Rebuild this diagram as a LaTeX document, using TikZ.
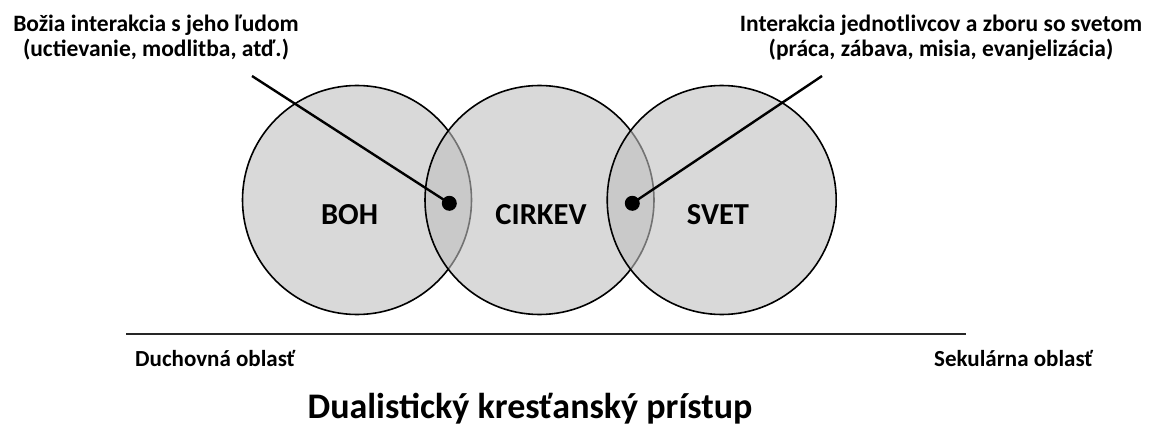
\documentclass[tikz,border=0pt]{standalone}
\usepackage{fontspec}
\setmainfont{Carlito}
\usetikzlibrary{shapes}

\begin{document}
\begin{tikzpicture}[x=1pt,y=-1pt]
\tikzset{area/.style = {shape=circle,draw,line width=1.6pt,fill={rgb,255:red,191;green,191;blue,191},fill opacity=0.6,draw opacity=1,minimum size=229pt,inner sep=0pt}}
\tikzset{dot/.style = {shape=circle,fill=black,minimum size=15pt,inner sep=0pt}}
\tikzset{edge/.style = {line width=2.4pt}}
\tikzset{big/.style = {font=\bfseries\fontsize{30.5}{34}\selectfont,inner sep=0pt}}
\tikzset{note/.style = {font=\bfseries\fontsize{23.5}{25}\selectfont,align=center,inner sep=0pt,anchor=base}}
\tikzset{side/.style = {font=\bfseries\fontsize{23}{26}\selectfont,inner sep=0pt}}
\useasboundingbox (0,0) rectangle (1156,425);
\node[area] (boh) at (357,200) {};
\node[area] (cirkev) at (539.5,200) {};
\node[area] (svet) at (721.7,200) {};
\node[big] (t_boh) at (349.5,215) {BOH};
\node[big] (t_cirkev) at (541,215) {CIRKEV};
\node[big] (t_svet) at (718,215) {SVET};
\node[dot] (d_1) at (449.3,203.3) {};
\node[dot] (d_2) at (632.3,203.3) {};
\node[note] (n_1) at (156,57) {Božia interakcia s jeho ľudom\\(uctievanie, modlitba, atď.)};
\node[note] (n_2) at (941,57) {Interakcia jednotlivcov a zboru so svetom\\(práca, zábava, misia, evanjelizácia)};
\coordinate (c_1) at (252,76);
\coordinate (c_2) at (822,76);
\draw[edge] (c_1) to (d_1.center);
\draw[edge] (c_2) to (d_2.center);
\coordinate (l_1) at (126,334);
\coordinate (l_2) at (966,334);
\draw[line width=2pt,black!85] (l_1) to (l_2);
\node[side,anchor=base west] (s_1) at (135,366) {Duchovná oblasť};
\node[side,anchor=base east] (s_2) at (1093,366) {Sekulárna oblasť};
\node[font=\bfseries\fontsize{36}{40}\selectfont,inner sep=0pt,anchor=base] (title) at (530,418) {Dualistický kresťanský prístup};
\end{tikzpicture}
\end{document}
